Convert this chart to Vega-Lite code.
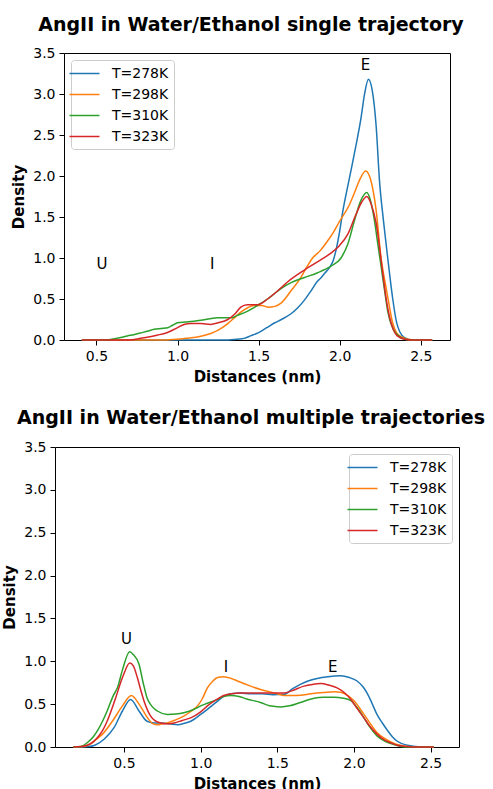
{
  "$schema": "https://vega.github.io/schema/vega-lite/v6.json",
  "background": "white",
  "padding": {"left": 2, "top": 15, "right": 0, "bottom": 0},
  "config": {
    "font": "DejaVu Sans",
    "view": {"stroke": "black", "strokeWidth": 1},
    "axis": {"grid": false, "domain": false, "labelFontSize": 14, "labelColor": "black", "labelFont": "DejaVu Sans", "tickColor": "black", "tickSize": 5, "tickWidth": 1, "labelPadding": 4, "titleFontSize": 15, "titleFontWeight": "bold", "titleColor": "black", "titleFont": "DejaVu Sans", "titlePadding": 6},
    "title": {"fontSize": 19, "fontWeight": "bold", "color": "black", "font": "DejaVu Sans", "baseline": "alphabetic"},
    "legend": {"labelFontSize": 14, "labelColor": "black", "labelFont": "DejaVu Sans", "strokeColor": "#cccccc", "fillColor": "rgba(255,255,255,0.8)", "cornerRadius": 3, "padding": 5, "rowPadding": 5, "offset": 7, "symbolStrokeWidth": 1.5, "labelOffset": 19}
  },
  "datasets": {
    "top_curves": [
      {"series": "T=278K", "distance": 0.41, "density": 0},
      {"series": "T=278K", "distance": 1.30, "density": 0},
      {"series": "T=278K", "distance": 1.37, "density": 0.01},
      {"series": "T=278K", "distance": 1.41, "density": 0.02},
      {"series": "T=278K", "distance": 1.45, "density": 0.05},
      {"series": "T=278K", "distance": 1.50, "density": 0.09},
      {"series": "T=278K", "distance": 1.55, "density": 0.15},
      {"series": "T=278K", "distance": 1.60, "density": 0.21},
      {"series": "T=278K", "distance": 1.64, "density": 0.25},
      {"series": "T=278K", "distance": 1.70, "density": 0.32},
      {"series": "T=278K", "distance": 1.74, "density": 0.39},
      {"series": "T=278K", "distance": 1.78, "density": 0.48},
      {"series": "T=278K", "distance": 1.823, "density": 0.60},
      {"series": "T=278K", "distance": 1.86, "density": 0.71},
      {"series": "T=278K", "distance": 1.885, "density": 0.76},
      {"series": "T=278K", "distance": 1.91, "density": 0.82},
      {"series": "T=278K", "distance": 1.936, "density": 0.88},
      {"series": "T=278K", "distance": 1.96, "density": 0.97},
      {"series": "T=278K", "distance": 1.98, "density": 1.12},
      {"series": "T=278K", "distance": 2.0, "density": 1.33},
      {"series": "T=278K", "distance": 2.02, "density": 1.58},
      {"series": "T=278K", "distance": 2.05, "density": 1.88},
      {"series": "T=278K", "distance": 2.075, "density": 2.12},
      {"series": "T=278K", "distance": 2.10, "density": 2.37},
      {"series": "T=278K", "distance": 2.13, "density": 2.69},
      {"series": "T=278K", "distance": 2.155, "density": 3.02},
      {"series": "T=278K", "distance": 2.177, "density": 3.18},
      {"series": "T=278K", "distance": 2.20, "density": 3.05},
      {"series": "T=278K", "distance": 2.225, "density": 2.6},
      {"series": "T=278K", "distance": 2.245, "density": 1.95},
      {"series": "T=278K", "distance": 2.27, "density": 1.45},
      {"series": "T=278K", "distance": 2.296, "density": 1.0},
      {"series": "T=278K", "distance": 2.327, "density": 0.5},
      {"series": "T=278K", "distance": 2.35, "density": 0.22},
      {"series": "T=278K", "distance": 2.37, "density": 0.1},
      {"series": "T=278K", "distance": 2.40, "density": 0.03},
      {"series": "T=278K", "distance": 2.45, "density": 0},
      {"series": "T=278K", "distance": 2.57, "density": 0},

      {"series": "T=298K", "distance": 0.41, "density": 0},
      {"series": "T=298K", "distance": 0.90, "density": 0},
      {"series": "T=298K", "distance": 0.96, "density": 0.005},
      {"series": "T=298K", "distance": 1.05, "density": 0.02},
      {"series": "T=298K", "distance": 1.10, "density": 0.03},
      {"series": "T=298K", "distance": 1.15, "density": 0.05},
      {"series": "T=298K", "distance": 1.205, "density": 0.08},
      {"series": "T=298K", "distance": 1.25, "density": 0.12},
      {"series": "T=298K", "distance": 1.31, "density": 0.20},
      {"series": "T=298K", "distance": 1.35, "density": 0.27},
      {"series": "T=298K", "distance": 1.39, "density": 0.34},
      {"series": "T=298K", "distance": 1.43, "density": 0.39},
      {"series": "T=298K", "distance": 1.47, "density": 0.42},
      {"series": "T=298K", "distance": 1.52, "density": 0.42},
      {"series": "T=298K", "distance": 1.56, "density": 0.40},
      {"series": "T=298K", "distance": 1.60, "density": 0.41},
      {"series": "T=298K", "distance": 1.638, "density": 0.45},
      {"series": "T=298K", "distance": 1.70, "density": 0.60},
      {"series": "T=298K", "distance": 1.76, "density": 0.76},
      {"series": "T=298K", "distance": 1.80, "density": 0.90},
      {"series": "T=298K", "distance": 1.833, "density": 1.0},
      {"series": "T=298K", "distance": 1.88, "density": 1.09},
      {"series": "T=298K", "distance": 1.926, "density": 1.21},
      {"series": "T=298K", "distance": 1.96, "density": 1.31},
      {"series": "T=298K", "distance": 2.0, "density": 1.45},
      {"series": "T=298K", "distance": 2.06, "density": 1.65},
      {"series": "T=298K", "distance": 2.09, "density": 1.79},
      {"series": "T=298K", "distance": 2.12, "density": 1.94},
      {"series": "T=298K", "distance": 2.16, "density": 2.06},
      {"series": "T=298K", "distance": 2.19, "density": 1.96},
      {"series": "T=298K", "distance": 2.224, "density": 1.59},
      {"series": "T=298K", "distance": 2.255, "density": 1.0},
      {"series": "T=298K", "distance": 2.28, "density": 0.70},
      {"series": "T=298K", "distance": 2.30, "density": 0.48},
      {"series": "T=298K", "distance": 2.325, "density": 0.22},
      {"series": "T=298K", "distance": 2.35, "density": 0.09},
      {"series": "T=298K", "distance": 2.38, "density": 0.04},
      {"series": "T=298K", "distance": 2.42, "density": 0.01},
      {"series": "T=298K", "distance": 2.47, "density": 0},
      {"series": "T=298K", "distance": 2.57, "density": 0},

      {"series": "T=310K", "distance": 0.41, "density": 0},
      {"series": "T=310K", "distance": 0.55, "density": 0},
      {"series": "T=310K", "distance": 0.61, "density": 0.016},
      {"series": "T=310K", "distance": 0.65, "density": 0.03},
      {"series": "T=310K", "distance": 0.69, "density": 0.05},
      {"series": "T=310K", "distance": 0.73, "density": 0.065},
      {"series": "T=310K", "distance": 0.77, "density": 0.085},
      {"series": "T=310K", "distance": 0.82, "density": 0.11},
      {"series": "T=310K", "distance": 0.856, "density": 0.13},
      {"series": "T=310K", "distance": 0.90, "density": 0.14},
      {"series": "T=310K", "distance": 0.94, "density": 0.15},
      {"series": "T=310K", "distance": 0.97, "density": 0.18},
      {"series": "T=310K", "distance": 1.0, "density": 0.21},
      {"series": "T=310K", "distance": 1.05, "density": 0.22},
      {"series": "T=310K", "distance": 1.10, "density": 0.23},
      {"series": "T=310K", "distance": 1.144, "density": 0.24},
      {"series": "T=310K", "distance": 1.20, "density": 0.26},
      {"series": "T=310K", "distance": 1.247, "density": 0.27},
      {"series": "T=310K", "distance": 1.30, "density": 0.27},
      {"series": "T=310K", "distance": 1.33, "density": 0.27},
      {"series": "T=310K", "distance": 1.37, "density": 0.30},
      {"series": "T=310K", "distance": 1.43, "density": 0.35},
      {"series": "T=310K", "distance": 1.50, "density": 0.43},
      {"series": "T=310K", "distance": 1.555, "density": 0.50},
      {"series": "T=310K", "distance": 1.60, "density": 0.57},
      {"series": "T=310K", "distance": 1.64, "density": 0.63},
      {"series": "T=310K", "distance": 1.70, "density": 0.70},
      {"series": "T=310K", "distance": 1.78, "density": 0.76},
      {"series": "T=310K", "distance": 1.864, "density": 0.82},
      {"series": "T=310K", "distance": 1.946, "density": 0.90},
      {"series": "T=310K", "distance": 2.008, "density": 1.0},
      {"series": "T=310K", "distance": 2.05, "density": 1.17},
      {"series": "T=310K", "distance": 2.09, "density": 1.45},
      {"series": "T=310K", "distance": 2.13, "density": 1.70},
      {"series": "T=310K", "distance": 2.167, "density": 1.80},
      {"series": "T=310K", "distance": 2.19, "density": 1.70},
      {"series": "T=310K", "distance": 2.213, "density": 1.47},
      {"series": "T=310K", "distance": 2.235, "density": 1.17},
      {"series": "T=310K", "distance": 2.255, "density": 0.90},
      {"series": "T=310K", "distance": 2.28, "density": 0.56},
      {"series": "T=310K", "distance": 2.296, "density": 0.35},
      {"series": "T=310K", "distance": 2.33, "density": 0.13},
      {"series": "T=310K", "distance": 2.358, "density": 0.06},
      {"series": "T=310K", "distance": 2.40, "density": 0.01},
      {"series": "T=310K", "distance": 2.45, "density": 0},
      {"series": "T=310K", "distance": 2.57, "density": 0},

      {"series": "T=323K", "distance": 0.41, "density": 0},
      {"series": "T=323K", "distance": 0.70, "density": 0},
      {"series": "T=323K", "distance": 0.773, "density": 0.02},
      {"series": "T=323K", "distance": 0.83, "density": 0.04},
      {"series": "T=323K", "distance": 0.876, "density": 0.06},
      {"series": "T=323K", "distance": 0.92, "density": 0.08},
      {"series": "T=323K", "distance": 0.959, "density": 0.11},
      {"series": "T=323K", "distance": 1.0, "density": 0.15},
      {"series": "T=323K", "distance": 1.04, "density": 0.19},
      {"series": "T=323K", "distance": 1.08, "density": 0.20},
      {"series": "T=323K", "distance": 1.144, "density": 0.20},
      {"series": "T=323K", "distance": 1.205, "density": 0.19},
      {"series": "T=323K", "distance": 1.25, "density": 0.21},
      {"series": "T=323K", "distance": 1.31, "density": 0.25},
      {"series": "T=323K", "distance": 1.35, "density": 0.31},
      {"series": "T=323K", "distance": 1.39, "density": 0.40},
      {"series": "T=323K", "distance": 1.43, "density": 0.43},
      {"series": "T=323K", "distance": 1.494, "density": 0.43},
      {"series": "T=323K", "distance": 1.555, "density": 0.50},
      {"series": "T=323K", "distance": 1.60, "density": 0.57},
      {"series": "T=323K", "distance": 1.64, "density": 0.64},
      {"series": "T=323K", "distance": 1.68, "density": 0.71},
      {"series": "T=323K", "distance": 1.78, "density": 0.85},
      {"series": "T=323K", "distance": 1.885, "density": 0.98},
      {"series": "T=323K", "distance": 1.946, "density": 1.06},
      {"series": "T=323K", "distance": 1.998, "density": 1.15},
      {"series": "T=323K", "distance": 2.05, "density": 1.29},
      {"series": "T=323K", "distance": 2.10, "density": 1.53},
      {"series": "T=323K", "distance": 2.135, "density": 1.68},
      {"series": "T=323K", "distance": 2.167, "density": 1.75},
      {"series": "T=323K", "distance": 2.195, "density": 1.65},
      {"series": "T=323K", "distance": 2.224, "density": 1.43},
      {"series": "T=323K", "distance": 2.265, "density": 0.82},
      {"series": "T=323K", "distance": 2.285, "density": 0.52},
      {"series": "T=323K", "distance": 2.306, "density": 0.29},
      {"series": "T=323K", "distance": 2.33, "density": 0.13},
      {"series": "T=323K", "distance": 2.355, "density": 0.05},
      {"series": "T=323K", "distance": 2.40, "density": 0.01},
      {"series": "T=323K", "distance": 2.45, "density": 0},
      {"series": "T=323K", "distance": 2.57, "density": 0}
    ],
    "top_labels": [
      {"label": "U", "distance": 0.5, "density": 0.87},
      {"label": "I", "distance": 1.2, "density": 0.87},
      {"label": "E", "distance": 2.13, "density": 3.29}
    ],
    "bottom_curves": [
      {"series": "T=278K", "distance": 0.17, "density": 0},
      {"series": "T=278K", "distance": 0.27, "density": 0.005},
      {"series": "T=278K", "distance": 0.31, "density": 0.02},
      {"series": "T=278K", "distance": 0.37, "density": 0.09},
      {"series": "T=278K", "distance": 0.435, "density": 0.225},
      {"series": "T=278K", "distance": 0.49, "density": 0.42},
      {"series": "T=278K", "distance": 0.543, "density": 0.555},
      {"series": "T=278K", "distance": 0.598, "density": 0.42},
      {"series": "T=278K", "distance": 0.65, "density": 0.30},
      {"series": "T=278K", "distance": 0.70, "density": 0.28},
      {"series": "T=278K", "distance": 0.74, "density": 0.28},
      {"series": "T=278K", "distance": 0.80, "density": 0.27},
      {"series": "T=278K", "distance": 0.85, "density": 0.26},
      {"series": "T=278K", "distance": 0.90, "density": 0.28},
      {"series": "T=278K", "distance": 0.935, "density": 0.30},
      {"series": "T=278K", "distance": 1.0, "density": 0.38},
      {"series": "T=278K", "distance": 1.044, "density": 0.44},
      {"series": "T=278K", "distance": 1.10, "density": 0.52},
      {"series": "T=278K", "distance": 1.15, "density": 0.59},
      {"series": "T=278K", "distance": 1.20, "density": 0.62},
      {"series": "T=278K", "distance": 1.26, "density": 0.63},
      {"series": "T=278K", "distance": 1.326, "density": 0.62},
      {"series": "T=278K", "distance": 1.40, "density": 0.62},
      {"series": "T=278K", "distance": 1.47, "density": 0.61},
      {"series": "T=278K", "distance": 1.544, "density": 0.615},
      {"series": "T=278K", "distance": 1.60, "density": 0.68},
      {"series": "T=278K", "distance": 1.65, "density": 0.73},
      {"series": "T=278K", "distance": 1.70, "density": 0.77},
      {"series": "T=278K", "distance": 1.76, "density": 0.80},
      {"series": "T=278K", "distance": 1.83, "density": 0.82},
      {"series": "T=278K", "distance": 1.913, "density": 0.83},
      {"series": "T=278K", "distance": 1.97, "density": 0.81},
      {"series": "T=278K", "distance": 2.02, "density": 0.77},
      {"series": "T=278K", "distance": 2.06, "density": 0.70},
      {"series": "T=278K", "distance": 2.09, "density": 0.615},
      {"series": "T=278K", "distance": 2.12, "density": 0.50},
      {"series": "T=278K", "distance": 2.15, "density": 0.38},
      {"series": "T=278K", "distance": 2.185, "density": 0.28},
      {"series": "T=278K", "distance": 2.22, "density": 0.19},
      {"series": "T=278K", "distance": 2.25, "density": 0.12},
      {"series": "T=278K", "distance": 2.28, "density": 0.07},
      {"series": "T=278K", "distance": 2.35, "density": 0.02},
      {"series": "T=278K", "distance": 2.40, "density": 0.005},
      {"series": "T=278K", "distance": 2.52, "density": 0},

      {"series": "T=298K", "distance": 0.17, "density": 0},
      {"series": "T=298K", "distance": 0.24, "density": 0.005},
      {"series": "T=298K", "distance": 0.283, "density": 0.04},
      {"series": "T=298K", "distance": 0.32, "density": 0.09},
      {"series": "T=298K", "distance": 0.36, "density": 0.15},
      {"series": "T=298K", "distance": 0.424, "density": 0.30},
      {"series": "T=298K", "distance": 0.49, "density": 0.48},
      {"series": "T=298K", "distance": 0.548, "density": 0.60},
      {"series": "T=298K", "distance": 0.598, "density": 0.50},
      {"series": "T=298K", "distance": 0.65, "density": 0.35},
      {"series": "T=298K", "distance": 0.69, "density": 0.27},
      {"series": "T=298K", "distance": 0.718, "density": 0.26},
      {"series": "T=298K", "distance": 0.75, "density": 0.27},
      {"series": "T=298K", "distance": 0.783, "density": 0.28},
      {"series": "T=298K", "distance": 0.84, "density": 0.32},
      {"series": "T=298K", "distance": 0.89, "density": 0.36},
      {"series": "T=298K", "distance": 0.94, "density": 0.42},
      {"series": "T=298K", "distance": 0.98, "density": 0.48},
      {"series": "T=298K", "distance": 1.01, "density": 0.56},
      {"series": "T=298K", "distance": 1.044, "density": 0.69},
      {"series": "T=298K", "distance": 1.08, "density": 0.77},
      {"series": "T=298K", "distance": 1.11, "density": 0.81},
      {"series": "T=298K", "distance": 1.15, "density": 0.82},
      {"series": "T=298K", "distance": 1.20, "density": 0.80},
      {"series": "T=298K", "distance": 1.24, "density": 0.77},
      {"series": "T=298K", "distance": 1.326, "density": 0.71},
      {"series": "T=298K", "distance": 1.39, "density": 0.67},
      {"series": "T=298K", "distance": 1.435, "density": 0.65},
      {"series": "T=298K", "distance": 1.50, "density": 0.62},
      {"series": "T=298K", "distance": 1.544, "density": 0.60},
      {"series": "T=298K", "distance": 1.60, "density": 0.60},
      {"series": "T=298K", "distance": 1.65, "density": 0.605},
      {"series": "T=298K", "distance": 1.718, "density": 0.62},
      {"series": "T=298K", "distance": 1.80, "density": 0.635},
      {"series": "T=298K", "distance": 1.87, "density": 0.645},
      {"series": "T=298K", "distance": 1.913, "density": 0.64},
      {"series": "T=298K", "distance": 1.96, "density": 0.60},
      {"series": "T=298K", "distance": 2.0, "density": 0.54},
      {"series": "T=298K", "distance": 2.065, "density": 0.38},
      {"series": "T=298K", "distance": 2.10, "density": 0.29},
      {"series": "T=298K", "distance": 2.15, "density": 0.17},
      {"series": "T=298K", "distance": 2.20, "density": 0.10},
      {"series": "T=298K", "distance": 2.24, "density": 0.06},
      {"series": "T=298K", "distance": 2.30, "density": 0.02},
      {"series": "T=298K", "distance": 2.35, "density": 0.005},
      {"series": "T=298K", "distance": 2.52, "density": 0},

      {"series": "T=310K", "distance": 0.17, "density": 0},
      {"series": "T=310K", "distance": 0.22, "density": 0.005},
      {"series": "T=310K", "distance": 0.26, "density": 0.05},
      {"series": "T=310K", "distance": 0.30, "density": 0.12},
      {"series": "T=310K", "distance": 0.327, "density": 0.19},
      {"series": "T=310K", "distance": 0.36, "density": 0.30},
      {"series": "T=310K", "distance": 0.39, "density": 0.42},
      {"series": "T=310K", "distance": 0.43, "density": 0.60},
      {"series": "T=310K", "distance": 0.457, "density": 0.69},
      {"series": "T=310K", "distance": 0.49, "density": 0.90},
      {"series": "T=310K", "distance": 0.537, "density": 1.11},
      {"series": "T=310K", "distance": 0.56, "density": 1.08},
      {"series": "T=310K", "distance": 0.598, "density": 0.965},
      {"series": "T=310K", "distance": 0.625, "density": 0.75},
      {"series": "T=310K", "distance": 0.65, "density": 0.575},
      {"series": "T=310K", "distance": 0.68, "density": 0.48},
      {"series": "T=310K", "distance": 0.718, "density": 0.42},
      {"series": "T=310K", "distance": 0.783, "density": 0.38},
      {"series": "T=310K", "distance": 0.84, "density": 0.385},
      {"series": "T=310K", "distance": 0.89, "density": 0.40},
      {"series": "T=310K", "distance": 0.957, "density": 0.44},
      {"series": "T=310K", "distance": 1.0, "density": 0.48},
      {"series": "T=310K", "distance": 1.044, "density": 0.51},
      {"series": "T=310K", "distance": 1.11, "density": 0.555},
      {"series": "T=310K", "distance": 1.15, "density": 0.59},
      {"series": "T=310K", "distance": 1.196, "density": 0.60},
      {"series": "T=310K", "distance": 1.25, "density": 0.59},
      {"series": "T=310K", "distance": 1.30, "density": 0.56},
      {"series": "T=310K", "distance": 1.39, "density": 0.52},
      {"series": "T=310K", "distance": 1.45, "density": 0.48},
      {"series": "T=310K", "distance": 1.522, "density": 0.467},
      {"series": "T=310K", "distance": 1.58, "density": 0.48},
      {"series": "T=310K", "distance": 1.65, "density": 0.52},
      {"series": "T=310K", "distance": 1.74, "density": 0.57},
      {"series": "T=310K", "distance": 1.80, "density": 0.58},
      {"series": "T=310K", "distance": 1.87, "density": 0.58},
      {"series": "T=310K", "distance": 1.93, "density": 0.57},
      {"series": "T=310K", "distance": 1.98, "density": 0.54},
      {"series": "T=310K", "distance": 2.02, "density": 0.46},
      {"series": "T=310K", "distance": 2.065, "density": 0.34},
      {"series": "T=310K", "distance": 2.10, "density": 0.24},
      {"series": "T=310K", "distance": 2.15, "density": 0.13},
      {"series": "T=310K", "distance": 2.20, "density": 0.07},
      {"series": "T=310K", "distance": 2.24, "density": 0.04},
      {"series": "T=310K", "distance": 2.30, "density": 0.01},
      {"series": "T=310K", "distance": 2.36, "density": 0},
      {"series": "T=310K", "distance": 2.52, "density": 0},

      {"series": "T=323K", "distance": 0.17, "density": 0},
      {"series": "T=323K", "distance": 0.22, "density": 0.005},
      {"series": "T=323K", "distance": 0.26, "density": 0.02},
      {"series": "T=323K", "distance": 0.30, "density": 0.06},
      {"series": "T=323K", "distance": 0.327, "density": 0.11},
      {"series": "T=323K", "distance": 0.36, "density": 0.19},
      {"series": "T=323K", "distance": 0.39, "density": 0.30},
      {"series": "T=323K", "distance": 0.42, "density": 0.44},
      {"series": "T=323K", "distance": 0.446, "density": 0.575},
      {"series": "T=323K", "distance": 0.49, "density": 0.81},
      {"series": "T=323K", "distance": 0.538, "density": 0.98},
      {"series": "T=323K", "distance": 0.56, "density": 0.95},
      {"series": "T=323K", "distance": 0.587, "density": 0.81},
      {"series": "T=323K", "distance": 0.61, "density": 0.66},
      {"series": "T=323K", "distance": 0.63, "density": 0.54},
      {"series": "T=323K", "distance": 0.674, "density": 0.36},
      {"series": "T=323K", "distance": 0.70, "density": 0.31},
      {"series": "T=323K", "distance": 0.74, "density": 0.28},
      {"series": "T=323K", "distance": 0.78, "density": 0.27},
      {"series": "T=323K", "distance": 0.826, "density": 0.28},
      {"series": "T=323K", "distance": 0.88, "density": 0.31},
      {"series": "T=323K", "distance": 0.935, "density": 0.34},
      {"series": "T=323K", "distance": 1.0, "density": 0.41},
      {"series": "T=323K", "distance": 1.044, "density": 0.48},
      {"series": "T=323K", "distance": 1.10, "density": 0.55},
      {"series": "T=323K", "distance": 1.15, "density": 0.60},
      {"series": "T=323K", "distance": 1.20, "density": 0.62},
      {"series": "T=323K", "distance": 1.26, "density": 0.63},
      {"series": "T=323K", "distance": 1.326, "density": 0.63},
      {"series": "T=323K", "distance": 1.40, "density": 0.63},
      {"series": "T=323K", "distance": 1.47, "density": 0.63},
      {"series": "T=323K", "distance": 1.544, "density": 0.63},
      {"series": "T=323K", "distance": 1.60, "density": 0.66},
      {"series": "T=323K", "distance": 1.674, "density": 0.71},
      {"series": "T=323K", "distance": 1.73, "density": 0.73},
      {"series": "T=323K", "distance": 1.783, "density": 0.74},
      {"series": "T=323K", "distance": 1.84, "density": 0.72},
      {"series": "T=323K", "distance": 1.89, "density": 0.69},
      {"series": "T=323K", "distance": 1.94, "density": 0.63},
      {"series": "T=323K", "distance": 1.98, "density": 0.555},
      {"series": "T=323K", "distance": 2.02, "density": 0.45},
      {"series": "T=323K", "distance": 2.065, "density": 0.34},
      {"series": "T=323K", "distance": 2.10, "density": 0.25},
      {"series": "T=323K", "distance": 2.15, "density": 0.15},
      {"series": "T=323K", "distance": 2.20, "density": 0.08},
      {"series": "T=323K", "distance": 2.24, "density": 0.05},
      {"series": "T=323K", "distance": 2.28, "density": 0.02},
      {"series": "T=323K", "distance": 2.33, "density": 0.01},
      {"series": "T=323K", "distance": 2.40, "density": 0},
      {"series": "T=323K", "distance": 2.52, "density": 0}
    ],
    "bottom_labels": [
      {"label": "U", "distance": 0.48, "density": 1.2},
      {"label": "I", "distance": 1.15, "density": 0.88},
      {"label": "E", "distance": 1.83, "density": 0.88}
    ]
  },
  "spacing": 107,
  "bounds": "flush",
  "center": true,
  "resolve": {"scale": {"x": "independent", "y": "independent", "color": "independent"}, "legend": {"color": "independent"}},
  "vconcat": [
    {
      "title": {"text": "AngII in Water/Ethanol single trajectory", "dx": -6, "offset": 11},
      "width": 386,
      "height": 287,
      "layer": [
        {
          "data": {"name": "top_curves"},
          "mark": {"type": "line", "strokeWidth": 1.5, "interpolate": "monotone"},
          "encoding": {
            "x": {"field": "distance", "type": "quantitative", "scale": {"domain": [0.3, 2.68], "nice": false, "zero": false}, "axis": {"values": [0.5, 1.0, 1.5, 2.0, 2.5], "format": ".1f", "title": "Distances (nm)"}},
            "y": {"field": "density", "type": "quantitative", "scale": {"domain": [0, 3.5], "nice": false}, "axis": {"values": [0, 0.5, 1.0, 1.5, 2.0, 2.5, 3.0, 3.5], "format": ".1f", "title": "Density"}},
            "color": {"field": "series", "type": "nominal", "scale": {"domain": ["T=278K", "T=298K", "T=310K", "T=323K"], "range": ["#1f77b4", "#ff7f0e", "#2ca02c", "#d62728"]}, "legend": {"title": null, "orient": "top-left", "symbolType": "M-2,0L2,0", "symbolSize": 225}}
          }
        },
        {
          "data": {"name": "top_labels"},
          "mark": {"type": "text", "align": "left", "baseline": "alphabetic", "fontSize": 15, "font": "DejaVu Sans", "color": "black"},
          "encoding": {
            "x": {"field": "distance", "type": "quantitative"},
            "y": {"field": "density", "type": "quantitative"},
            "text": {"field": "label", "type": "nominal"}
          }
        }
      ]
    },
    {
      "title": {"text": "AngII in Water/Ethanol multiple trajectories", "dx": -6, "offset": 12},
      "width": 404,
      "height": 300,
      "layer": [
        {
          "data": {"name": "bottom_curves"},
          "mark": {"type": "line", "strokeWidth": 1.5, "interpolate": "monotone"},
          "encoding": {
            "x": {"field": "distance", "type": "quantitative", "scale": {"domain": [0.05, 2.685], "nice": false, "zero": false}, "axis": {"values": [0.5, 1.0, 1.5, 2.0, 2.5], "format": ".1f", "title": "Distances (nm)"}},
            "y": {"field": "density", "type": "quantitative", "scale": {"domain": [0, 3.5], "nice": false}, "axis": {"values": [0, 0.5, 1.0, 1.5, 2.0, 2.5, 3.0, 3.5], "format": ".1f", "title": "Density"}},
            "color": {"field": "series", "type": "nominal", "scale": {"domain": ["T=278K", "T=298K", "T=310K", "T=323K"], "range": ["#1f77b4", "#ff7f0e", "#2ca02c", "#d62728"]}, "legend": {"title": null, "orient": "top-right", "symbolType": "M-2,0L2,0", "symbolSize": 225}}
          }
        },
        {
          "data": {"name": "bottom_labels"},
          "mark": {"type": "text", "align": "left", "baseline": "alphabetic", "fontSize": 15, "font": "DejaVu Sans", "color": "black"},
          "encoding": {
            "x": {"field": "distance", "type": "quantitative"},
            "y": {"field": "density", "type": "quantitative"},
            "text": {"field": "label", "type": "nominal"}
          }
        }
      ]
    }
  ]
}
